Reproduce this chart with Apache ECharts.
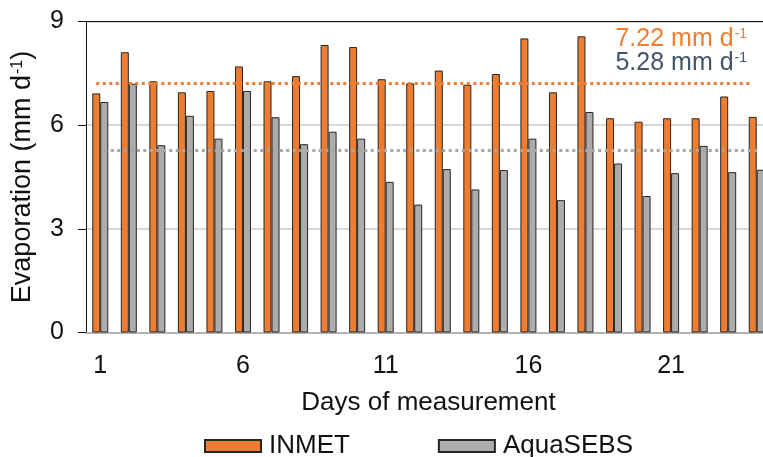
<!DOCTYPE html>
<html>
<head>
<meta charset="utf-8">
<script src="https://cdn.jsdelivr.net/npm/echarts@6/dist/echarts.min.js"></script>
<style>
  html, body { margin: 0; padding: 0; background: #fff; }
  #chart { width: 763px; height: 457px; }
</style>
</head>
<body>
<div id="chart"></div>
<script>
// Daily evaporation (mm/day): station data vs. satellite estimate
const days = ['1','2','3','4','5','6','7','8','9','10','11','12','13','14','15','16','17','18','19','20','21','22','23','24'];
const inmet = [6.92, 8.11, 7.27, 6.95, 6.99, 7.70, 7.27, 7.42, 8.32, 8.26, 7.33, 7.21,
               7.58, 7.17, 7.48, 8.51, 6.95, 8.57, 6.20, 6.10, 6.20, 6.20, 6.83, 6.24];
const aquaSebs = [6.67, 7.20, 5.42, 6.27, 5.61, 6.99, 6.23, 5.45, 5.81, 5.61, 4.36, 3.70,
                  4.73, 4.14, 4.70, 5.61, 3.83, 6.38, 4.89, 3.95, 4.61, 5.40, 4.64, 4.71];
const meanInmet = 7.22;
const meanAqua = 5.28;
const yTicks = [0, 3, 6, 9];

const FONT = '"Liberation Sans", Arial, sans-serif';
const ORANGE = '#ED7D31';
const GREY = '#AEABAB';
const SLATE = '#44546A';
const EDGE = '#262626';
const INK = '#111';

const chart = echarts.init(document.getElementById('chart'));

function meanLine(value, color) {
  return {
    silent: true,
    symbol: 'none',
    label: { show: false },
    lineStyle: { color: color, width: 3, type: [3, 3.5], opacity: 1 },
    emphasis: { disabled: true },
    data: [[{ coord: [0, value] }, { coord: [days.length - 1, value] }]]
  };
}

// rich styles for "mm d^-1" style superscripts (axis labels use color, graphic text uses fill)
function supRich(color, size, key) {
  const b = { fontFamily: FONT, fontSize: size, lineHeight: 28 };
  const s = { fontFamily: FONT, fontSize: Math.round(size * 0.58), lineHeight: 28, padding: [0, 0, 11, 1] };
  b[key] = color; s[key] = color;
  return { b: b, s: s };
}

chart.setOption({
  animation: false,
  backgroundColor: '#fff',
  textStyle: { fontFamily: FONT },
  grid: { left: 86, top: 21.5, width: 685, bottom: 124.5, containLabel: false, outerBoundsMode: 'none' },
  legend: {
    top: 428,
    left: 199,
    icon: 'rect',
    itemWidth: 56,
    itemHeight: 12,
    itemGap: 88,
    textStyle: { fontFamily: FONT, fontSize: 26, color: INK, padding: [0, 0, 0, 3] },
    data: ['INMET', 'AquaSEBS']
  },
  xAxis: [{
    type: 'category',
    data: days,
    position: 'bottom',
    axisLine: { show: true, lineStyle: { color: '#A6A6A6', width: 1.5 } },
    axisTick: { show: false },
    axisLabel: {
      interval: 4,
      fontSize: 25,
      color: INK,
      margin: 21,
      fontFamily: FONT
    },
    name: 'Days of measurement',
    nameLocation: 'middle',
    nameGap: 57,
    nameTextStyle: { fontSize: 26, color: INK, fontFamily: FONT },
    splitLine: { show: false }
  }, {
    type: 'category',
    data: days,
    position: 'top',
    axisLine: { show: true, lineStyle: { color: INK, width: 1 } },
    axisTick: { show: false },
    axisLabel: { show: false },
    splitLine: { show: false }
  }],
  yAxis: {
    type: 'value',
    min: yTicks[0],
    max: yTicks[yTicks.length - 1],
    interval: 3,
    axisLine: { show: true, lineStyle: { color: INK, width: 1 } },
    axisTick: { show: true, inside: false, length: 8, lineStyle: { color: INK } },
    axisLabel: { fontSize: 25, color: INK, margin: 22, fontFamily: FONT },
    splitLine: { show: true, lineStyle: { color: '#D9D9D9', width: 2 } },
    name: '{b|Evaporation (mm d}{s|-1}{b|)}',
    nameLocation: 'middle',
    nameGap: 49,
    nameTextStyle: { rich: supRich(INK, 27, 'color') }
  },
  series: [{
    name: 'INMET',
    type: 'bar',
    data: inmet,
    barWidth: 8,
    barGap: '0%',
    itemStyle: { color: ORANGE, borderColor: EDGE, borderWidth: 1 },
    emphasis: { disabled: true },
    markLine: meanLine(meanInmet, ORANGE)
  }, {
    name: 'AquaSEBS',
    type: 'bar',
    data: aquaSebs,
    barWidth: 8,
    barGap: '0%',
    itemStyle: { color: GREY, borderColor: EDGE, borderWidth: 1 },
    emphasis: { disabled: true },
    markLine: meanLine(meanAqua, '#A6A6A6')
  }],
  graphic: [{
    type: 'text',
    right: 16,
    top: 27,
    z: 10,
    style: {
      text: '{b|' + meanInmet.toFixed(2) + ' mm d}{s|-1}',
      rich: supRich(ORANGE, 25, 'fill')
    }
  }, {
    type: 'text',
    right: 16,
    top: 51,
    z: 10,
    style: {
      text: '{b|' + meanAqua.toFixed(2) + ' mm d}{s|-1}',
      rich: supRich(SLATE, 25, 'fill')
    }
  }]
});
</script>
</body>
</html>
